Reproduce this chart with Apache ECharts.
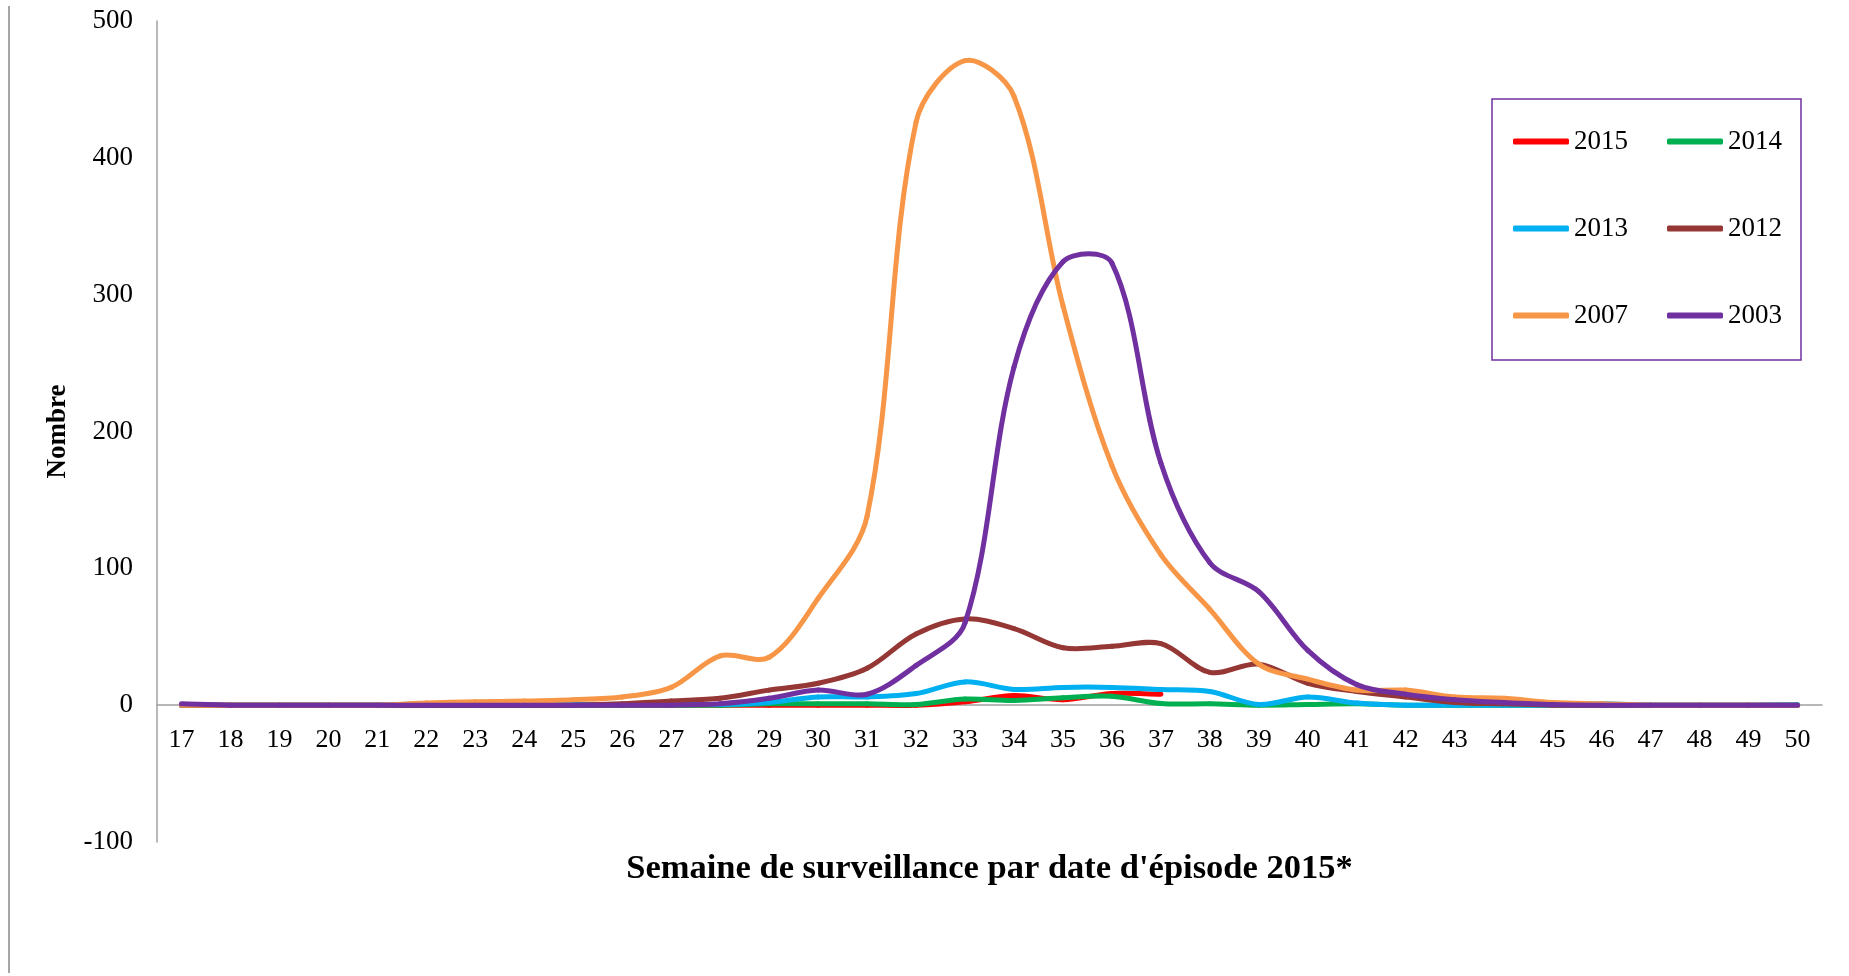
<!DOCTYPE html>
<html>
<head>
<meta charset="utf-8">
<title>Semaine de surveillance</title>
<script src="https://cdn.jsdelivr.net/npm/echarts@6/dist/echarts.min.js"></script>
<style>
  html, body { margin: 0; padding: 0; background: #fff; }
  #chart { width: 1849px; height: 976px; }
</style>
</head>
<body>
<div id="chart"></div>
<script>
  // semaines 17 -> 50
  var weeks = ['17','18','19','20','21','22','23','24','25','26','27','28','29','30','31','32','33',
               '34','35','36','37','38','39','40','41','42','43','44','45','46','47','48','49','50'];

  // valeurs (une valeur par semaine)
  var s2015 = [0,0,0,0,0,0,0,0,0,0,0,0,0,0,0,0,2.5,7,4,8.5,8];
  var s2014 = [0,0,0,0,0,0,0,0,0,0,0,0,1,1,1,0.5,4.5,3.5,5.5,6.5,1.2,1,0,0.5,1,0,0,0,0,0,0,0,0,0];
  var s2013 = [0,0,0,0,0,1,0.5,0.5,0.5,0.5,0.5,0.5,2,6,6,8.5,17,11.5,13,13,11.5,10,0.5,6,1.5,0,0,0,0,1,0,0,0,0.5];
  var s2012 = [0,0,0,0,0,0,0,0,0,1,3,5,11,16,27,52,63,56,42,43,45,24,30,16,10,6,2,1,0,0,0,0,0,0];
  var s2007 = [0,0,0,0,0,1.5,2.5,3,4,6,13,36,35,78,138,426,471,445,292,175,110,70,30,19,11,11,6,5,2,1,0,0,0,0];
  var s2003 = [1,0,0,0,0,0,0,0,0,0,0,1,5,11,8,29,60,247,324,323,177,104,83,40,15,8,4,2,0.5,0,0,0,0,0];

  var yTicks = [-100, 0, 100, 200, 300, 400, 500];

  var names = ['2015', '2014', '2013', '2012', '2007', '2003'];
  var colors = ['#FF0000', '#00B050', '#00B0F0', '#953735', '#F79646', '#7030A0'];
  var values = [s2015, s2014, s2013, s2012, s2007, s2003];

  var serif = '"Liberation Serif", "DejaVu Serif", serif';

  function dist(a, b) {
    return Math.sqrt((a[0] - b[0]) * (a[0] - b[0]) + (a[1] - b[1]) * (a[1] - b[1]));
  }

  // courbe lissée façon tableur : un segment de Bézier par semaine,
  // tangentes pondérées par la longueur des segments voisins (coordonnées de l'axe)
  function smoothSegment(arr, color) {
    return function (params, api) {
      var i = params.dataIndex;
      if (i >= arr.length - 1) return null;
      var p = function (k) {
        k = Math.max(0, Math.min(arr.length - 1, k));
        return api.coord([k, arr[k]]);
      };
      var p0 = p(i - 1), p1 = p(i), p2 = p(i + 1), p3 = p(i + 2);
      var d01 = dist(p0, p1), d12 = dist(p1, p2), d23 = dist(p2, p3);
      var f1 = (d01 + d12) > 0 ? d12 / (d01 + d12) / 3 : 0;
      var f2 = (d12 + d23) > 0 ? d12 / (d12 + d23) / 3 : 0;
      return {
        type: 'bezierCurve',
        shape: {
          x1: p1[0], y1: p1[1],
          x2: p2[0], y2: p2[1],
          cpx1: p1[0] + (p2[0] - p0[0]) * f1, cpy1: p1[1] + (p2[1] - p0[1]) * f1,
          cpx2: p2[0] - (p3[0] - p1[0]) * f2, cpy2: p2[1] - (p3[1] - p1[1]) * f2
        },
        style: { stroke: color, fill: null, lineWidth: 5, lineCap: 'round' },
        silent: true
      };
    };
  }

  var series = names.map(function (n, i) {
    return {
      name: n,
      type: 'custom',
      data: values[i].map(function (v, k) { return [k, v]; }),
      encode: { x: 0, y: 1 },
      renderItem: smoothSegment(values[i], colors[i]),
      itemStyle: { color: colors[i] },
      clip: false,
      z: 2 + i
    };
  });

  function legendRow(items, top) {
    return {
      orient: 'horizontal',
      left: 1513,
      top: top,
      padding: 0,
      itemGap: 39,
      itemWidth: 56,
      itemHeight: 6,
      icon: 'roundRect',
      selectedMode: false,
      data: items,
      textStyle: { fontFamily: serif, fontSize: 27, color: '#000', padding: [0, 0, 0, 0] }
    };
  }

  var chart = echarts.init(document.getElementById('chart'), null, { renderer: 'canvas' });
  chart.setOption({
    animation: false,
    backgroundColor: '#ffffff',
    grid: { left: 157, right: 27, top: 21, bottom: 134, containLabel: false, outerBoundsMode: 'none' },
    legend: [
      legendRow(['2015', '2014'], 128),
      legendRow(['2013', '2012'], 215),
      legendRow(['2007', '2003'], 302)
    ],
    graphic: [
      {
        type: 'rect',
        shape: { x: 1492, y: 99, width: 309, height: 261 },
        style: { fill: 'none', stroke: '#7030A0', lineWidth: 1.5 },
        z: 1
      },
      {
        type: 'line',
        shape: { x1: 9, y1: 6, x2: 9, y2: 973 },
        style: { stroke: '#A6A6A6', lineWidth: 2 }
      }
    ],
    xAxis: {
      type: 'category',
      data: weeks,
      boundaryGap: true,
      // l'axe des semaines est posé sur la ligne du zéro
      offset: -136.8,
      name: "Semaine de surveillance par date d'épisode 2015*",
      nameLocation: 'middle',
      nameGap: 146,
      nameTextStyle: { fontFamily: serif, fontSize: 34.5, fontWeight: 'bold', color: '#000' },
      axisLine: { onZero: false, lineStyle: { color: '#A0A0A0', width: 1.5 } },
      axisTick: { show: false },
      axisLabel: { fontFamily: serif, fontSize: 26, color: '#000', margin: 22, interval: 0 },
      splitLine: { show: false }
    },
    yAxis: {
      type: 'value',
      min: yTicks[0],
      max: yTicks[yTicks.length - 1],
      interval: 100,
      name: 'Nombre',
      nameLocation: 'middle',
      nameGap: 85,
      nameTextStyle: { fontFamily: serif, fontSize: 27, fontWeight: 'bold', color: '#000' },
      axisLine: { show: true, lineStyle: { color: '#A0A0A0', width: 1.5 } },
      axisTick: { show: false },
      axisLabel: { fontFamily: serif, fontSize: 27, color: '#000', margin: 24 },
      splitLine: { show: false }
    },
    series: series
  });
</script>
</body>
</html>
